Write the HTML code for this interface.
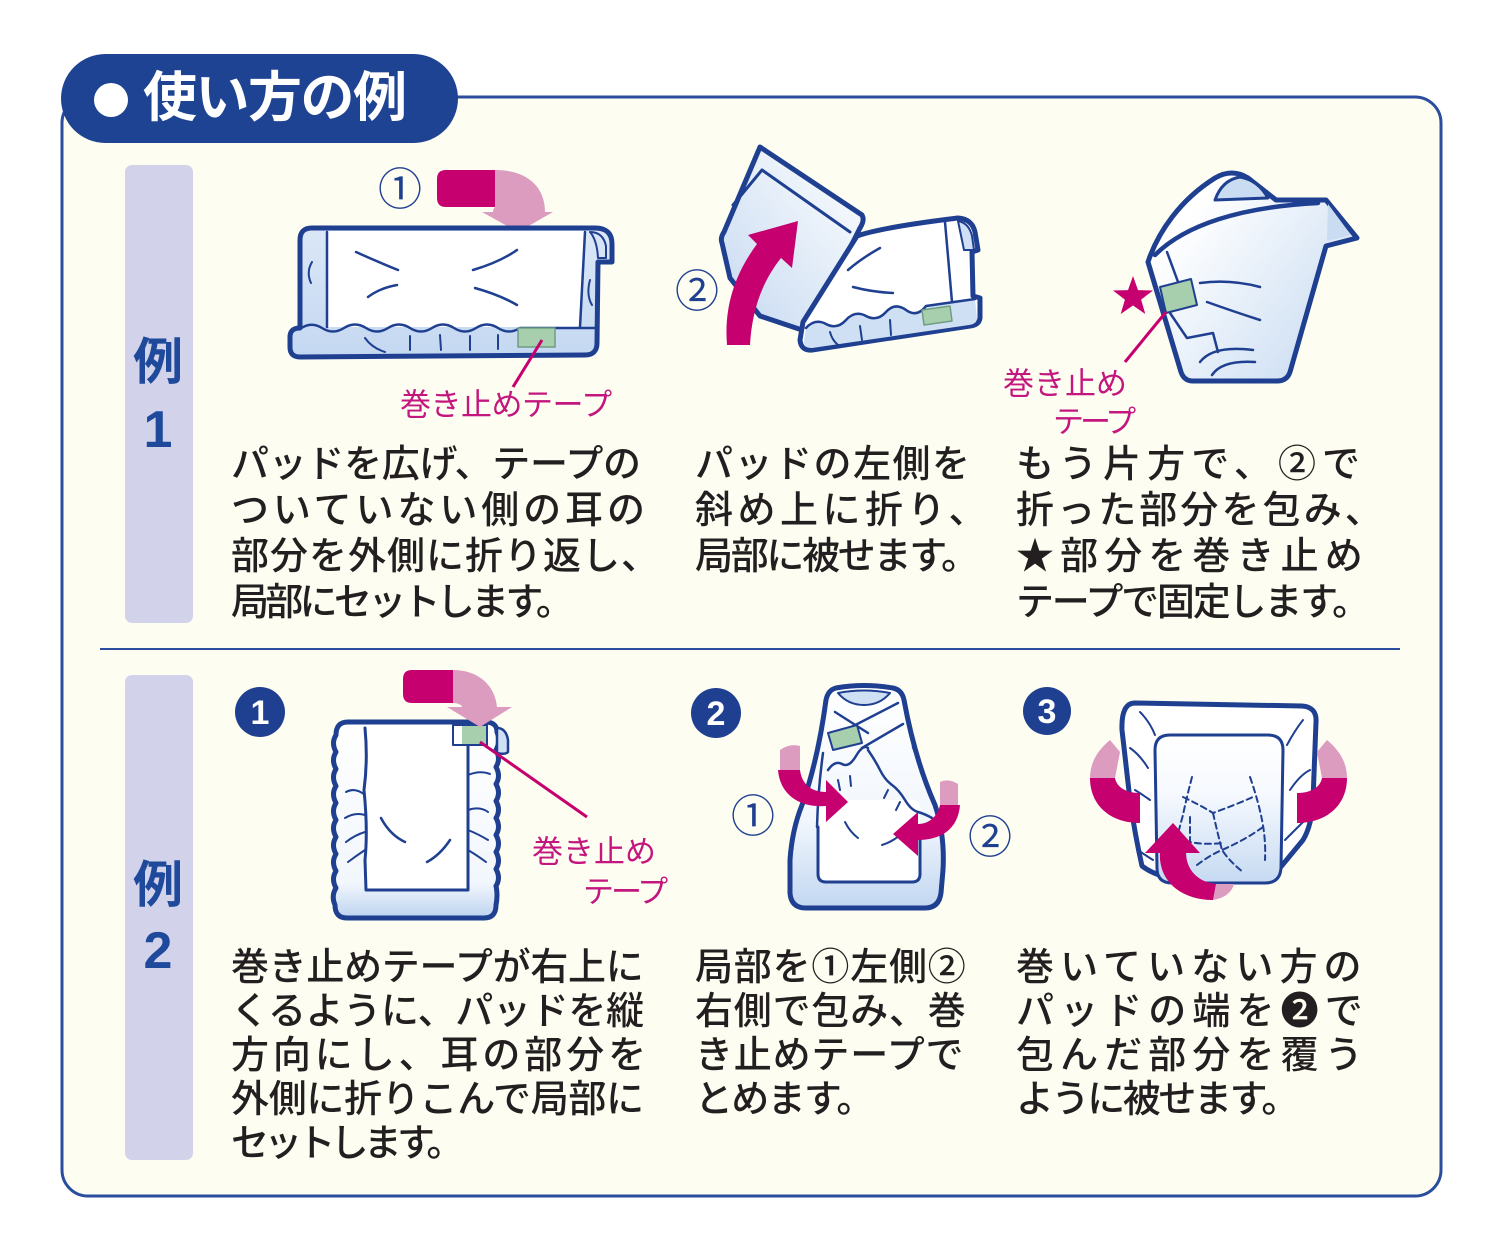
<!DOCTYPE html>
<html><head><meta charset="utf-8">
<style>
html,body{margin:0;padding:0;background:#fff;}
body{width:1500px;height:1254px;position:relative;overflow:hidden;font-family:"Liberation Sans","Noto Sans CJK JP",sans-serif;}
svg{position:absolute;left:0;top:0;}
.t{position:absolute;font-size:38px;line-height:46px;height:46px;white-space:nowrap;color:#231f20;font-weight:500;font-family:"Liberation Sans","Noto Sans CJK JP",sans-serif;}
</style></head><body>
<svg width="1500" height="1254" viewBox="0 0 1500 1254" xmlns="http://www.w3.org/2000/svg" font-family="Liberation Sans, Noto Sans CJK JP, sans-serif">
<defs>
<linearGradient id="g1" x1="0" y1="0" x2="0" y2="1"><stop offset="0" stop-color="#dbe7f7"/><stop offset="1" stop-color="#c4d8f1"/></linearGradient>
<linearGradient id="g2" x1="1" y1="0" x2="0" y2="1"><stop offset="0" stop-color="#ffffff"/><stop offset="1" stop-color="#c5d9f1"/></linearGradient>
<linearGradient id="g3" x1="0.2" y1="0.2" x2="1" y2="0.8"><stop offset="0" stop-color="#ffffff"/><stop offset="1" stop-color="#c9dcf2"/></linearGradient>
<linearGradient id="g4" x1="0" y1="0" x2="0" y2="1"><stop offset="0" stop-color="#ffffff"/><stop offset="0.82" stop-color="#f2f7fd"/><stop offset="1" stop-color="#bdd3f0"/></linearGradient>
<linearGradient id="g5" x1="0" y1="0" x2="0" y2="1"><stop offset="0" stop-color="#ffffff"/><stop offset="0.6" stop-color="#f2f7fd"/><stop offset="1" stop-color="#c2d7f1"/></linearGradient>
<linearGradient id="g6" x1="0" y1="0" x2="0" y2="1"><stop offset="0" stop-color="#ffffff"/><stop offset="0.4" stop-color="#f6f9fe"/><stop offset="1" stop-color="#c6daf2"/></linearGradient>
</defs>

<!-- panel -->
<rect x="62" y="97" width="1379" height="1099" rx="26" fill="#fdfdf1" stroke="#2a4d9e" stroke-width="3"/>
<rect x="61" y="54" width="397" height="89" rx="44.5" fill="#1e4393"/>
<circle cx="111" cy="100" r="17" fill="#fff"/>
<text x="111" y="100" font-size="38" fill="#fff" text-anchor="middle" dominant-baseline="central">●</text>
<text x="143" y="98" font-size="54" font-weight="bold" fill="#fff" dominant-baseline="central" letter-spacing="-1.5">使い方の例</text>

<rect x="125" y="165" width="68" height="458" rx="7" fill="#d2d3ea"/>
<rect x="125" y="675" width="68" height="485" rx="7" fill="#d2d3ea"/>
<text x="158" y="362" font-size="50" font-weight="bold" fill="#1f4a9c" text-anchor="middle" dominant-baseline="central">例</text>
<text x="158" y="430" font-size="52" font-weight="bold" fill="#1f4a9c" text-anchor="middle" dominant-baseline="central">1</text>
<text x="158" y="885" font-size="50" font-weight="bold" fill="#1f4a9c" text-anchor="middle" dominant-baseline="central">例</text>
<text x="158" y="951" font-size="52" font-weight="bold" fill="#1f4a9c" text-anchor="middle" dominant-baseline="central">2</text>

<line x1="100" y1="649" x2="1400" y2="649" stroke="#2a4d9e" stroke-width="2"/>

<!-- ===== Illus 1 ===== -->
<g stroke="#1f3f91" stroke-linejoin="round" stroke-linecap="round">
<path d="M446,170 L497,170 L497,207 L446,207 Q437,207 437,198 L437,179 Q437,170 446,170 Z" fill="#c6006f" stroke="none"/>
<path d="M495,170 C525,170 545,185 545,212 L553,212 L518,232 L482,212 L493,212 C493,209 495,207 495,207 Z" fill="#dc9cbf" stroke="none"/>
<path d="M312,228 L595,228 Q612,228 612,244 L612,262 L598,262 L597,343 Q597,355 585,355 L300,357 Q290,357 290,347 L290,337 Q290,328 300,328 L300,240 Q300,228 312,228 Z" fill="url(#g1)" stroke-width="5"/>
<path d="M327,231 L586,231 L581,327 L327,327 Z" fill="#fff" stroke="none"/>
<line x1="327" y1="232" x2="327" y2="327" stroke-width="2.5"/>
<line x1="585" y1="232" x2="580" y2="327" stroke-width="2.5"/>
<path d="M590,232 Q603,232 606,246 L606,258 L598,258 Q597,240 590,232 Z" fill="#d6e4f6" stroke-width="2"/>
<path d="M300,329 Q311,321 322,328 T344,328 T366,328 T388,328 T410,328 T432,328 T454,328 T476,328 T498,328 T520,328 L597,328" fill="none" stroke-width="2.5"/>
<path d="M365,338 Q372,348 385,352 M410,336 L410,350 M440,335 L441,350 M470,336 L470,350 M498,335 L498,349" fill="none" stroke-width="2"/>
<path d="M356,252 Q378,262 398,270 M368,297 Q380,288 397,285 M473,270 Q500,262 517,250 M475,288 Q500,295 517,305" fill="none" stroke-width="2.5"/>
<path d="M312,262 Q306,272 311,283 M590,280 Q586,295 592,305" fill="none" stroke-width="2"/>
<rect x="518" y="328" width="37" height="19" fill="#a7cfae" stroke="#6f9d82" stroke-width="1.5"/>
</g>
<line x1="542" y1="340" x2="513" y2="387" stroke="#c6006f" stroke-width="3"/>
<text x="400" y="212" font-size="44" fill="#1f3f91" text-anchor="middle" dominant-baseline="central" transform="translate(0,-22)">①</text>
<text x="400" y="405" font-size="31" fill="#c3167e" dominant-baseline="central" letter-spacing="-0.5">巻き止めテープ</text>

<!-- ===== Illus 2 ===== -->
<g stroke="#1f3f91" stroke-linejoin="round" stroke-linecap="round">
<path d="M760,147 L862,215 Q865,220 860,228 L808,332 L760,316 L730,278 L722,243 Q720,238 724,232 Z" fill="url(#g2)" stroke-width="5"/>
<path d="M733,205 L762,170 L850,232" fill="none" stroke-width="3"/>
<path d="M857,236 C880,228 925,222 958,218 Q972,219 975,232 L978,250 L972,252 L973,296 L980,298 L980,318 Q979,325 970,326 L812,350 Q801,351 800,340 L803,322 Z" fill="#fff" stroke-width="5"/>
<path d="M806,328 Q815,318 826,324 T846,320 T866,316 T886,312 T906,310 T926,306 L975,299 L977,318 Q977,324 969,325 L812,348 Q803,348 804,340 Z" fill="#cfe0f5" stroke="none"/>
<path d="M806,328 Q815,318 826,324 T846,320 T866,316 T886,312 T906,310 T926,306 L975,299" fill="none" stroke-width="2.5"/>
<path d="M830,332 Q832,340 838,345 M860,326 L862,340 M890,320 L891,335" fill="none" stroke-width="2"/>
<path d="M945,222 L952,302" fill="none" stroke-width="2.5"/>
<path d="M958,221 Q969,223 972,236 L974,250 L964,250 Z" fill="#cfe0f5" stroke-width="2"/>
<path d="M848,270 Q862,258 880,248 M853,287 Q872,292 893,293" fill="none" stroke-width="2.5"/>
<path d="M922,310 L950,306 L952,321 L924,325 Z" fill="#a7cfae" stroke="#6f9d82" stroke-width="1.5"/>
</g>
<path d="M727,345 C724,308 734,275 757,244 L748,235 L798,221 L792,268 L781,258 C762,282 752,310 750,345 Z" fill="#c6006f"/>
<text x="697" y="292" font-size="44" fill="#1f3f91" text-anchor="middle" dominant-baseline="central">②</text>

<!-- ===== Illus 3 ===== -->
<g stroke="#1f3f91" stroke-linejoin="round" stroke-linecap="round">
<path d="M1148,262 C1158,232 1180,200 1215,178 Q1232,168 1248,178 L1276,200 L1326,200 L1357,238 L1326,246 L1290,372 Q1287,381 1277,381 L1193,381 Q1184,381 1181,372 Z" fill="url(#g3)" stroke-width="5"/>
<path d="M1215,200 Q1222,180 1240,177 Q1258,180 1268,198 Z" fill="#c9dcf2" stroke-width="3"/>
<path d="M1328,204 L1351,235 L1327,241 Z" fill="#c9dcf2" stroke="none"/>
<path d="M1155,255 C1185,225 1240,207 1318,203" fill="none" stroke-width="4.5"/>
<path d="M1167,252 L1181,290 M1170,313 L1187,338 L1213,333 L1218,352" fill="none" stroke-width="2.5"/>
<path d="M1200,283 Q1230,279 1260,287 M1207,302 Q1235,312 1260,320" fill="none" stroke-width="2.5"/>
<path d="M1200,362 Q1213,345 1253,350 M1212,375 Q1222,360 1255,362" fill="none" stroke-width="2.5"/>
<path d="M1160,287 L1191,279 L1197,305 L1166,313 Z" fill="#a7cfae" stroke-width="2"/>
</g>
<polygon points="1133,276 1138,290.1 1153,290.5 1141.1,299.6 1145.3,314 1133,305.5 1120.7,314 1124.9,299.6 1113,290.5 1128,290.1" fill="#c6006f"/>
<line x1="1166" y1="312" x2="1125" y2="362" stroke="#c6006f" stroke-width="3"/>
<text x="1003" y="384" font-size="31" fill="#c3167e" dominant-baseline="central">巻き止め</text>
<text x="1053" y="422" font-size="31" fill="#c3167e" dominant-baseline="central" letter-spacing="-4">テープ</text>

<!-- ===== Illus 4 ===== -->
<circle cx="260" cy="712" r="25" fill="#1f3f91"/>
<text x="260" y="713" font-size="34" font-weight="bold" fill="#fff" text-anchor="middle" dominant-baseline="central">1</text>
<g stroke="#1f3f91" stroke-linejoin="round" stroke-linecap="round">
<path d="M347,918 Q335,918 335,905 Q331,896 336,888 Q331,879 336,871 Q331,862 336,854 Q331,845 336,837 Q331,828 336,820 Q331,811 336,803 Q331,794 336,786 Q331,777 336,769 Q331,760 336,752 Q331,743 336,735 Q336,722 348,722 L485,722 Q497,722 497,732 Q501,741 496,750 Q501,759 496,767 Q501,776 496,784 Q501,793 496,801 Q501,810 496,818 Q501,827 496,835 Q501,844 496,852 Q501,861 496,869 Q501,878 496,886 Q498,895 496,905 Q496,918 484,918 Z" fill="url(#g4)" stroke-width="5"/>
<path d="M365,725 L467,725 L468,890 L366,890 Z" fill="#fff" stroke="none"/>
<path d="M365,728 Q368,760 364,790 Q368,830 365,860 L366,890 L468,890 L468,745" fill="none" stroke-width="3"/>
<path d="M365,795 Q355,787 346,792 M365,815 Q355,812 345,818 M365,832 Q355,835 346,842 M365,850 Q356,856 348,862 M468,775 Q480,770 490,774 M468,810 Q480,806 488,812 M468,830 Q478,834 488,840 M468,850 Q478,856 486,862" fill="none" stroke-width="2"/>
<path d="M381,818 Q390,835 405,842 M427,862 Q440,855 450,840" fill="none" stroke-width="2.5"/>
<path d="M497,728 Q506,728 508,740 L508,752 Q505,755 497,753 Z" fill="#cfe0f5" stroke-width="2.5"/>
<rect x="453" y="725" width="34" height="20" fill="#fff" stroke-width="2"/>
<rect x="462" y="726" width="24" height="18" fill="#a7cfae" stroke="none"/>
</g>
<path d="M412,670 L453,670 L453,703 L412,703 Q403,703 403,694 L403,679 Q403,670 412,670 Z" fill="#c6006f"/>
<path d="M453,670 C478,670 495,685 497,707 L512,707 L480,727 L447,707 L462,707 C462,705 458,703 453,703 Z" fill="#dc9cbf"/>
<line x1="480" y1="742" x2="587" y2="817" stroke="#c6006f" stroke-width="3"/>
<text x="532" y="852" font-size="31" fill="#c3167e" dominant-baseline="central">巻き止め</text>
<text x="583" y="892" font-size="31" fill="#c3167e" dominant-baseline="central" letter-spacing="-3">テープ</text>

<!-- ===== Illus 5 ===== -->
<circle cx="716" cy="713" r="25" fill="#1f3f91"/>
<text x="716" y="714" font-size="34" font-weight="bold" fill="#fff" text-anchor="middle" dominant-baseline="central">2</text>
<g stroke="#1f3f91" stroke-linejoin="round" stroke-linecap="round">
<path d="M836,688 Q864,683 893,688 Q902,690 904,700 Q915,760 935,805 Q945,835 943,870 L941,893 Q939,908 925,908 L806,908 Q791,908 790,893 L790,860 Q792,830 802,805 Q818,760 826,700 Q828,690 836,688 Z" fill="url(#g5)" stroke-width="5"/>
<path d="M838,693 Q864,688 890,693 Q880,705 864,705 Q848,705 838,693 Z" fill="#cfe0f5" stroke-width="2"/>
<rect x="818" y="800" width="102" height="82" rx="8" fill="#fff" stroke="none"/>
<path d="M818,827 L818,874 Q818,882 826,882 L912,882 Q920,882 920,874 L920,827" fill="none" stroke-width="3"/>
<path d="M898,703 L832,737 M903,724 L862,748 M835,712 L868,733" fill="none" stroke-width="2.5"/>
<path d="M823,753 Q818,790 817,827 M913,747 Q928,785 940,817" fill="none" stroke-width="2.5"/>
<path d="M828,770 Q835,760 842,764 T856,756 T868,748 M868,750 Q875,760 880,770 T892,785 T905,800 T918,812 T932,818" fill="none" stroke-width="2.5"/>
<path d="M838,780 L840,790 M850,776 L851,786 M888,790 L884,798 M900,802 L896,810 M845,822 Q850,832 858,838 M882,845 Q892,842 900,835" fill="none" stroke-width="2"/>
<path d="M828,733 L857,725 L862,743 L833,750 Z" fill="#a7cfae" stroke-width="2"/>
</g>
<path d="M780,772 L780,750 Q790,743 800,746 L800,770 Z" fill="#dc9cbf"/>
<path d="M778,770 C780,795 800,808 826,806 L826,822 L848,802 L826,780 L826,792 C812,792 802,785 800,770 Z" fill="#c6006f"/>
<path d="M958,806 L958,784 Q948,778 940,782 L940,806 Z" fill="#dc9cbf"/>
<path d="M960,805 C958,830 940,840 918,840 L918,856 L893,834 L918,812 L918,824 C930,824 938,815 940,805 Z" fill="#c6006f"/>
<text x="753" y="817" font-size="44" fill="#1f3f91" text-anchor="middle" dominant-baseline="central">①</text>
<text x="990" y="838" font-size="44" fill="#1f3f91" text-anchor="middle" dominant-baseline="central">②</text>

<!-- ===== Illus 6 ===== -->
<circle cx="1047" cy="711" r="24" fill="#1f3f91"/>
<text x="1047" y="712" font-size="34" font-weight="bold" fill="#fff" text-anchor="middle" dominant-baseline="central">3</text>
<g stroke="#1f3f91" stroke-linejoin="round" stroke-linecap="round">
<path d="M1135,703 L1302,706 Q1317,707 1316,722 L1313,800 Q1312,825 1303,840 L1270,880 L1200,882 Q1160,880 1142,866 Q1135,835 1130,800 L1122,730 Q1121,703 1135,703 Z" fill="#fff" stroke-width="5"/>
<path d="M1155,750 Q1155,735 1170,735 L1268,735 Q1283,735 1283,750 L1281,868 Q1280,883 1265,883 L1172,883 Q1157,883 1157,868 Z" fill="url(#g6)" stroke-width="3"/>
<path d="M1140,712 Q1150,722 1155,735 M1130,748 Q1140,755 1148,768 M1135,790 Q1143,795 1150,800 M1138,850 Q1145,855 1153,860 M1303,720 Q1295,730 1287,745 M1310,770 Q1300,775 1290,790 M1305,820 Q1295,830 1285,840" fill="none" stroke-width="2"/>
<g fill="none" stroke-width="2" stroke-dasharray="6 4">
<path d="M1192,777 Q1186,800 1183,815 Q1176,840 1172,860"/>
<path d="M1250,777 Q1258,800 1262,820 Q1266,840 1265,860"/>
<path d="M1183,797 Q1200,805 1213,813 Q1235,805 1253,797"/>
<path d="M1190,817 L1190,842 Q1205,845 1223,843"/>
<path d="M1213,813 Q1218,835 1222,850 Q1230,862 1243,872"/>
<path d="M1197,865 Q1210,855 1222,850 Q1245,840 1263,827"/>
</g>
</g>
<path d="M1090,778 L1115,778 L1120,752 L1110,740 C1098,750 1090,762 1090,778 Z" fill="#dc9cbf"/>
<path d="M1090,778 C1090,805 1110,823 1140,823 L1140,793 C1127,793 1117,788 1115,778 Z" fill="#c6006f"/>
<path d="M1347,778 L1322,778 L1317,752 L1327,740 C1339,750 1347,762 1347,778 Z" fill="#dc9cbf"/>
<path d="M1347,778 C1347,805 1327,823 1297,823 L1297,793 C1310,793 1320,788 1322,778 Z" fill="#c6006f"/>
<path d="M1213,900 C1225,898 1232,892 1234,884 L1216,884 Z" fill="#dc9cbf"/>
<path d="M1160,852 C1158,880 1180,900 1213,900 L1216,884 C1198,882 1186,870 1186,852 Z" fill="#c6006f"/>
<polygon points="1145,853 1173,823 1200,853" fill="#c6006f"/>
</svg>

<!-- Ex1 text -->
<div class="t" style="left:231px;top:442px;letter-spacing:-0.3px">パッドを広げ、テープの</div>
<div class="t" style="left:231px;top:488px;letter-spacing:3.9px">ついていない側の耳の</div>
<div class="t" style="left:231px;top:534px;letter-spacing:1px">部分を外側に折り返し、</div>
<div class="t" style="left:231px;top:580px;letter-spacing:-3.7px">局部にセットします。</div>

<div class="t" style="left:695px;top:442px;letter-spacing:1.5px">パッドの左側を</div>
<div class="t" style="left:695px;top:488px;letter-spacing:4.5px">斜め上に折り、</div>
<div class="t" style="left:695px;top:534px;letter-spacing:-2.3px">局部に被せます。</div>

<div class="t" style="left:1016px;top:442px;letter-spacing:6.1px">もう片方で、②で</div>
<div class="t" style="left:1016px;top:488px;letter-spacing:3.1px">折った部分を包み、</div>
<div class="t" style="left:1016px;top:534px;letter-spacing:6.1px">★部分を巻き止め</div>
<div class="t" style="left:1016px;top:580px;letter-spacing:-2.2px">テープで固定します。</div>

<!-- Ex2 text -->
<div class="t" style="left:231px;top:945px;letter-spacing:-0.3px">巻き止めテープが右上に</div>
<div class="t" style="left:231px;top:989px;letter-spacing:-0.3px">くるように、パッドを縦</div>
<div class="t" style="left:231px;top:1033px;letter-spacing:3.9px">方向にし、耳の部分を</div>
<div class="t" style="left:231px;top:1077px;letter-spacing:-0.3px">外側に折りこんで局部に</div>
<div class="t" style="left:231px;top:1121px;letter-spacing:-4.8px">セットします。</div>

<div class="t" style="left:695px;top:945px;letter-spacing:0.8px">局部を①左側②</div>
<div class="t" style="left:695px;top:989px;letter-spacing:0.8px">右側で包み、巻</div>
<div class="t" style="left:695px;top:1033px;letter-spacing:0.8px">き止めテープで</div>
<div class="t" style="left:695px;top:1077px;letter-spacing:-1.7px">とめます。</div>

<div class="t" style="left:1016px;top:945px;letter-spacing:6.1px">巻いていない方の</div>
<div class="t" style="left:1016px;top:989px;letter-spacing:6.1px">パッドの端を❷で</div>
<div class="t" style="left:1016px;top:1033px;letter-spacing:6.1px">包んだ部分を覆う</div>
<div class="t" style="left:1016px;top:1077px;letter-spacing:-2.4px">ように被せます。</div>
</body></html>
